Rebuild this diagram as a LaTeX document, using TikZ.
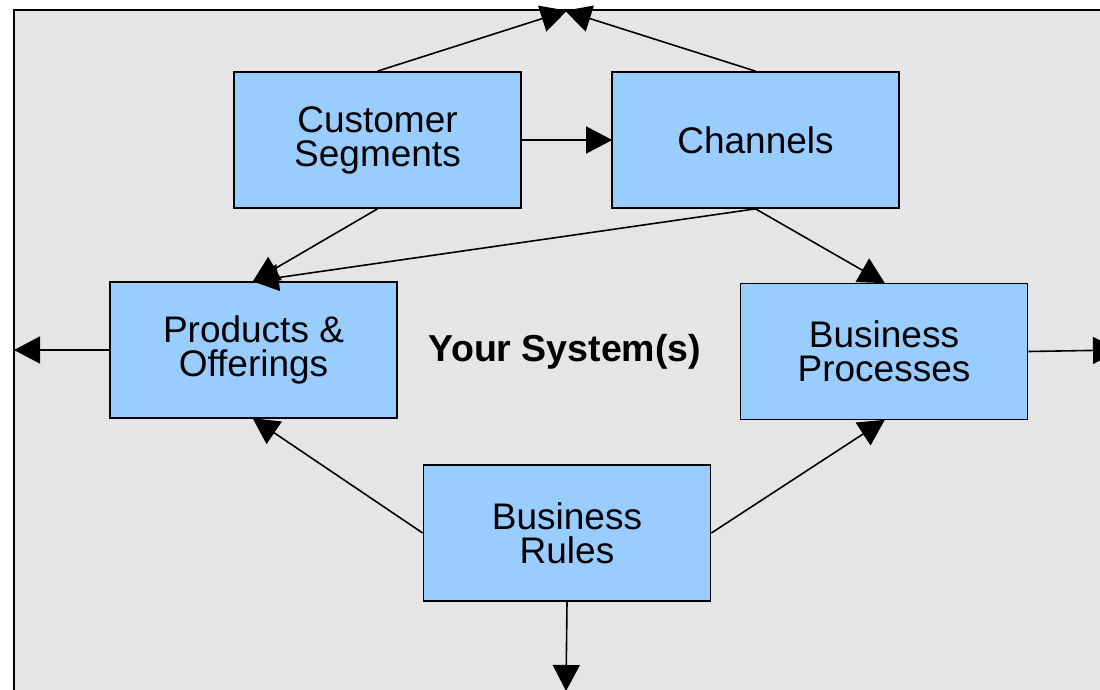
\documentclass[tikz,border=0pt]{standalone}
\usepackage{fontspec}
\setmainfont{Liberation Sans}
\usetikzlibrary{arrows.meta}
\definecolor{bggray}{HTML}{E5E5E5}
\definecolor{boxblue}{HTML}{99CCFF}
\begin{document}
\begin{tikzpicture}[x=1pt,y=-1pt,
  boxnode/.style={draw=black, line width=1.7pt, fill=boxblue, rectangle,
    minimum width=287pt, minimum height=136pt, inner sep=0pt, align=center,
    font=\fontsize{37}{34}\selectfont},
  conn/.style={draw=black, line width=1.6pt, -{Triangle[length=26pt,width=27pt]}, shorten >=-1pt}]
\useasboundingbox (0,0) rectangle (1100,690);
\clip (0,0) rectangle (1100,690);
\draw[fill=bggray, line width=2pt] (14,10) rectangle (1200,800);

\node[boxnode] (cs) at (377.5,140) {Customer\\Segments};
\node[boxnode] (ch) at (755.5,140) {Channels};
\node[boxnode] (po) at (253.5,350) {Products \&\\Offerings};
\node[boxnode] (bp) at (884,351.5) {Business\\Processes};
\node[boxnode] (br) at (567,533) {Business\\Rules};
\node[font=\fontsize{37.5}{38}\selectfont\bfseries] (sys) at (565,352) {Your System(s)};

\coordinate (top) at (566,11);
\coordinate (left) at (15,350);
\coordinate (right) at (1118,350);
\coordinate (bottom) at (566,690);

\draw[conn] (cs.north) -- (top);
\draw[conn] (ch.north) -- (top);
\draw[conn] (cs.east) -- (ch.west);
\draw[conn] (cs.south) -- (po.north);
\draw[conn] (ch.south) -- (po.north);
\draw[conn] (ch.south) -- (bp.north);
\draw[conn] (po.west) -- (left);
\draw[conn] (bp.east) -- (right);
\draw[conn] (br.west) -- (po.south);
\draw[conn] (br.east) -- (bp.south);
\draw[conn] (br.south) -- (bottom);
\end{tikzpicture}
\end{document}
